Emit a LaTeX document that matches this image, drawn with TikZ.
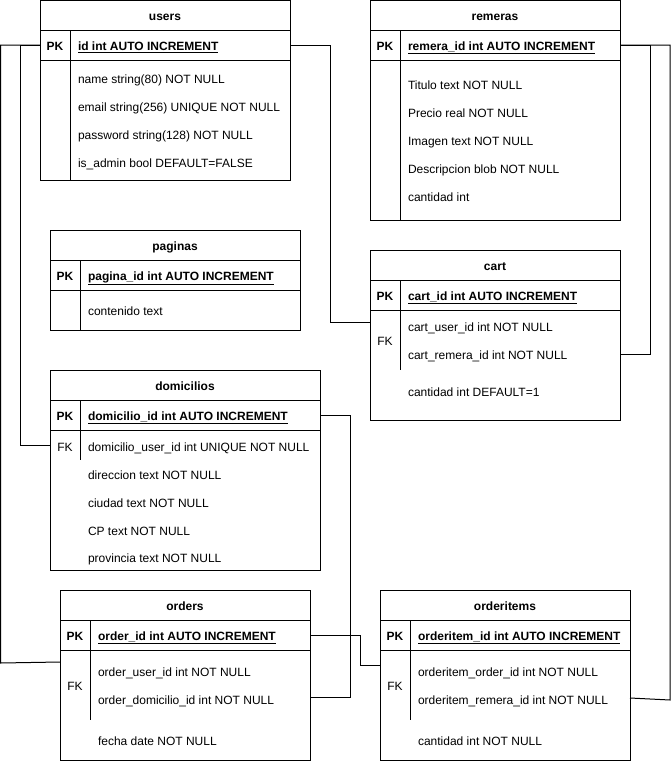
\documentclass[tikz,border=0pt]{standalone}
\usepackage{fontspec}
\setmainfont{Liberation Sans}
\newcommand\erfont{\fontsize{12}{14}\selectfont}
\begin{document}
\begin{tikzpicture}[x=1pt,y=-1pt,line width=1pt,
  tbl/.style={draw, anchor=north west, inner sep=0pt, outer sep=0pt, minimum width=250pt},
  txt/.style={inner sep=0pt, yshift=-0.8pt},
  ttl/.style={txt, font=\erfont\bfseries, anchor=base},
  fld/.style={txt, font=\erfont, anchor=base west, xshift=-0.5pt},
  pkf/.style={txt, font=\erfont\bfseries, anchor=base west, xshift=-0.5pt},
  key/.style={txt, font=\erfont\bfseries, anchor=base},
  fkl/.style={txt, font=\erfont, anchor=base},
  rel/.style={draw, line width=1pt}
]
\useasboundingbox (0,0) rectangle (672,761);

% ---------- users ----------
\node[tbl, minimum height=30pt] (usersT) at (40,0) {};
\node[tbl, minimum height=30pt] (usersPK) at (40,30) {};
\node[tbl, minimum height=120pt] (usersB) at (40,60) {};
\draw (70,30) -- (70,180);
\node[ttl] (usersN) at (165,19.5) {users};
\node[key] (usersK) at (55,49.5) {PK};
\node[pkf] (usersF0) at (78,49.5) {\underline{id int AUTO INCREMENT}};
\node[fld] (usersF1) at (78,82.5) {name string(80) NOT NULL};
\node[fld] (usersF2) at (78,110.5) {email string(256) UNIQUE NOT NULL};
\node[fld] (usersF3) at (78,138.5) {password string(128) NOT NULL};
\node[fld] (usersF4) at (78,166.5) {is\_admin bool DEFAULT=FALSE};

% ---------- remeras ----------
\node[tbl, minimum height=30pt] (remT) at (370,0) {};
\node[tbl, minimum height=30pt] (remPK) at (370,30) {};
\node[tbl, minimum height=160pt] (remB) at (370,60) {};
\draw (400,30) -- (400,220);
\node[ttl] (remN) at (495,19.5) {remeras};
\node[key] (remK) at (385,49.5) {PK};
\node[pkf] (remF0) at (408,49.5) {\underline{remera\_id int AUTO INCREMENT}};
\node[fld] (remF1) at (408,89) {Titulo text NOT NULL};
\node[fld] (remF2) at (408,117) {Precio real NOT NULL};
\node[fld] (remF3) at (408,145) {Imagen text NOT NULL};
\node[fld] (remF4) at (408,173) {Descripcion blob NOT NULL};
\node[fld] (remF5) at (408,201) {cantidad int};

% ---------- paginas ----------
\node[tbl, minimum height=30pt] (pagT) at (50,230) {};
\node[tbl, minimum height=30pt] (pagPK) at (50,260) {};
\node[tbl, minimum height=40pt] (pagB) at (50,290) {};
\draw (80,260) -- (80,330);
\node[ttl] (pagN) at (175,249.5) {paginas};
\node[key] (pagK) at (65,279.5) {PK};
\node[pkf] (pagF0) at (88,279.5) {\underline{pagina\_id int AUTO INCREMENT}};
\node[fld] (pagF1) at (88,314.5) {contenido text};

% ---------- cart ----------
\node[tbl, minimum height=30pt] (cartT) at (370,250) {};
\node[tbl, minimum height=30pt] (cartPK) at (370,280) {};
\node[tbl, minimum height=110pt] (cartB) at (370,310) {};
\draw (400,280) -- (400,370);
\node[ttl] (cartN) at (495,269.5) {cart};
\node[key] (cartK) at (385,299.5) {PK};
\node[pkf] (cartF0) at (408,299.5) {\underline{cart\_id int AUTO INCREMENT}};
\node[fkl] (cartFK) at (385,345) {FK};
\node[fld] (cartF1) at (408,331) {cart\_user\_id int NOT NULL};
\node[fld] (cartF2) at (408,359) {cart\_remera\_id int NOT NULL};
\node[fld] (cartF3) at (408,395.5) {cantidad int DEFAULT=1};

% ---------- domicilios ----------
\node[tbl, minimum width=270pt, minimum height=30pt] (domT) at (50,370) {};
\node[tbl, minimum width=270pt, minimum height=30pt] (domPK) at (50,400) {};
\node[tbl, minimum width=270pt, minimum height=140pt] (domB) at (50,430) {};
\draw (80,400) -- (80,460);
\node[ttl] (domN) at (185,389.5) {domicilios};
\node[key] (domK) at (65,419.5) {PK};
\node[pkf] (domF0) at (88,419.5) {\underline{domicilio\_id int AUTO INCREMENT}};
\node[fkl] (domFK) at (65,450.5) {FK};
\node[fld] (domF1) at (88,450.5) {domicilio\_user\_id int UNIQUE NOT NULL};
\node[fld] (domF2) at (88,478.5) {direccion text NOT NULL};
\node[fld] (domF3) at (88,506.5) {ciudad text NOT NULL};
\node[fld] (domF4) at (88,534.5) {CP text NOT NULL};
\node[fld] (domF5) at (88,562) {provincia text NOT NULL};

% ---------- orders ----------
\node[tbl, minimum height=30pt] (ordT) at (60,590) {};
\node[tbl, minimum height=30pt] (ordPK) at (60,620) {};
\node[tbl, minimum height=110pt] (ordB) at (60,650) {};
\draw (90,620) -- (90,720);
\node[ttl] (ordN) at (185,609.5) {orders};
\node[key] (ordK) at (75,639.5) {PK};
\node[pkf] (ordF0) at (98,639.5) {\underline{order\_id int AUTO INCREMENT}};
\node[fkl] (ordFK) at (75,690) {FK};
\node[fld] (ordF1) at (98,675.5) {order\_user\_id int NOT NULL};
\node[fld] (ordF2) at (98,703.5) {order\_domicilio\_id int NOT NULL};
\node[fld] (ordF3) at (98,745) {fecha date NOT NULL};

% ---------- orderitems ----------
\node[tbl, minimum height=30pt] (oiT) at (380,590) {};
\node[tbl, minimum height=30pt] (oiPK) at (380,620) {};
\node[tbl, minimum height=110pt] (oiB) at (380,650) {};
\draw (410,620) -- (410,720);
\node[ttl] (oiN) at (505,609.5) {orderitems};
\node[key] (oiK) at (395,639.5) {PK};
\node[pkf] (oiF0) at (418,639.5) {\underline{orderitem\_id int AUTO INCREMENT}};
\node[fkl] (oiFK) at (395,690) {FK};
\node[fld] (oiF1) at (418,675.5) {orderitem\_order\_id int NOT NULL};
\node[fld] (oiF2) at (418,703.5) {orderitem\_remera\_id int NOT NULL};
\node[fld] (oiF3) at (418,745) {cantidad int NOT NULL};

% ---------- attachment points ----------
\coordinate (ordFKu) at (60,662);
\coordinate (domFKu) at (50,445);
\coordinate (cartFKu) at (370,322);
\coordinate (cartFKr) at (620,354);
\coordinate (oiFKr) at (630,698);
\coordinate (ordFKd) at (310,697);
\coordinate (oiFKo) at (380,665);

% ---------- relations ----------
\draw[rel] (usersPK.west) -- (0.5,45) -- (0.5,663) -- (ordFKu);
\draw[rel] (usersPK.west) -- (20,45) -- (20,445) -- (domFKu);
\draw[rel] (usersPK.east) -- (330,45) -- (330,322) -- (cartFKu);
\draw[rel] (remPK.east) -- (650,45) -- (650,354) -- (cartFKr);
\draw[rel] (remPK.east) -- (670,45) -- (670,700) -- (oiFKr);
\draw[rel] (domPK.east) -- (350,415) -- (350,697) -- (ordFKd);
\draw[rel] (ordPK.east) -- (360,635) -- (360,665) -- (oiFKo);
\end{tikzpicture}
\end{document}
